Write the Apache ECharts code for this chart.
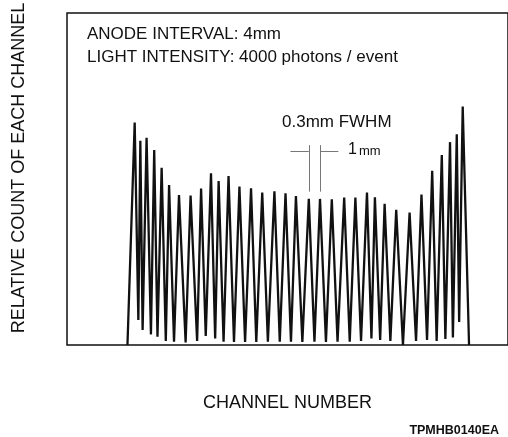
<!DOCTYPE html>
<html>
<head>
<meta charset="utf-8">
<script src="https://cdn.jsdelivr.net/npm/echarts@6/dist/echarts.min.js"></script>
<style>
html,body{margin:0;padding:0;background:#fff;}
#chart{width:508px;height:437px;}
</style>
</head>
<body>
<div id="chart"></div>
<script>
// Channel position (arbitrary units) and relative count (0-100)
const channelPos = [
  6.1, 6.83, 7.2, 7.4, 7.63, 8.03, 8.47, 8.8, 9.13, 9.55, 9.97, 10.3, 10.8, 11.3, 11.97, 12.47,
  13.13, 13.53, 14.0, 14.53, 14.95, 15.3, 15.8, 16.3, 16.85, 17.4, 17.97, 18.57, 19.1, 19.7,
  20.27, 20.93, 21.47, 22.05, 22.6, 23.1, 23.75, 24.4, 24.97, 25.53, 26.13, 26.72, 27.3, 27.97,
  28.53, 29.1, 29.67, 30.27, 30.72, 31.07, 31.6, 32.05, 32.63, 33.22, 33.9, 34.57, 35.22, 35.77,
  36.33, 36.85, 37.3, 37.82, 38.18, 38.65, 38.94, 39.33, 39.57, 39.93, 40.57
];
const relCount = [
  0, 67.0, 7.5, 61.5, 4.5, 62.4, 3.2, 58.7, 2.5, 53.4, 1.2, 48.2, 1.0, 45.2, 0.8, 45.0,
  1.2, 47.1, 2.7, 51.7, 2.0, 49.4, 1.0, 50.9, 0.9, 47.7, 0.9, 47.2, 0.9, 45.9,
  1.0, 46.3, 1.0, 45.7, 1.0, 44.9, 0.9, 44.0, 1.0, 44.0, 0.9, 43.9, 1.0, 44.4,
  1.0, 44.4, 1.2, 45.9, 2.0, 44.5, 1.5, 42.5, 1.2, 40.7, 0, 39.9, 1.2, 45.3,
  1.5, 52.5, 1.2, 57.2, 1.8, 61.1, 2.3, 63.5, 6.9, 71.8, 0
];
// FWHM annotation: indices of the two marked peaks and bar levels
const markedPeaks = [37, 39];
const barTop = 60.2, barLevel = 58.5, barBottom = 46.2, barExt = 1.85;

const data = channelPos.map((x, i) => [x, relCount[i]]);
const xa = channelPos[markedPeaks[0]], xb = channelPos[markedPeaks[1]];
const grey = '#777';
const chart = echarts.init(document.getElementById('chart'), null, {renderer: 'canvas'});
const font = 'Liberation Sans, Arial, Helvetica, sans-serif';
chart.setOption({
  animation: false,
  backgroundColor: '#fff',
  grid: {left: 67, top: 13, right: -4, bottom: 92, show: true, borderColor: '#111', borderWidth: 1.5, backgroundColor: 'transparent'},
  xAxis: {
    type: 'value', min: 0, max: 44.5,
    axisLine: {show: false}, axisTick: {show: false}, axisLabel: {show: false}, splitLine: {show: false},
    name: 'CHANNEL NUMBER', nameLocation: 'middle', nameGap: 49,
    nameTextStyle: {color: '#111', fontSize: 18, fontFamily: font}
  },
  yAxis: {
    type: 'value', min: 0, max: 100,
    axisLine: {show: false}, axisTick: {show: false}, axisLabel: {show: false}, splitLine: {show: false}
  },
  series: [
    {
      type: 'line', data: data, symbol: 'none', silent: true,
      lineStyle: {color: '#111', width: 2.3, join: 'miter'},
      markLine: {
        silent: true, symbol: 'none', label: {show: false},
        lineStyle: {color: grey, width: 1, type: 'solid'},
        data: [
          [{coord: [xa, barTop]}, {coord: [xa, barBottom]}],
          [{coord: [xb, barTop]}, {coord: [xb, barBottom]}],
          [{coord: [xa - barExt, barLevel]}, {coord: [xa, barLevel]}],
          [{coord: [xb, barLevel]}, {coord: [xb + barExt, barLevel]}]
        ]
      }
    }
  ],
  graphic: [
    {type: 'text', x: 19, y: 168, rotation: Math.PI / 2,
     style: {text: 'RELATIVE COUNT OF EACH CHANNEL', font: '18px ' + font, fill: '#111', align: 'center', verticalAlign: 'middle'}},
    {type: 'text', left: 87, top: 26, style: {text: 'ANODE INTERVAL: 4mm', font: '17px ' + font, fill: '#111'}},
    {type: 'text', left: 87, top: 49, style: {text: 'LIGHT INTENSITY: 4000 photons / event', font: '17px ' + font, fill: '#111'}},
    {type: 'text', left: 282, top: 114, style: {text: '0.3mm FWHM', font: '17px ' + font, fill: '#111'}},
    {type: 'text', left: 348, top: 142, style: {text: '1', font: '16px ' + font, fill: '#111'}},
    {type: 'text', left: 359, top: 145, style: {text: 'mm', font: '13px ' + font, fill: '#111'}},
    {type: 'text', right: 9, top: 424, style: {text: 'TPMHB0140EA', font: 'bold 12.5px ' + font, fill: '#111'}}
  ]
});
</script>
</body>
</html>
